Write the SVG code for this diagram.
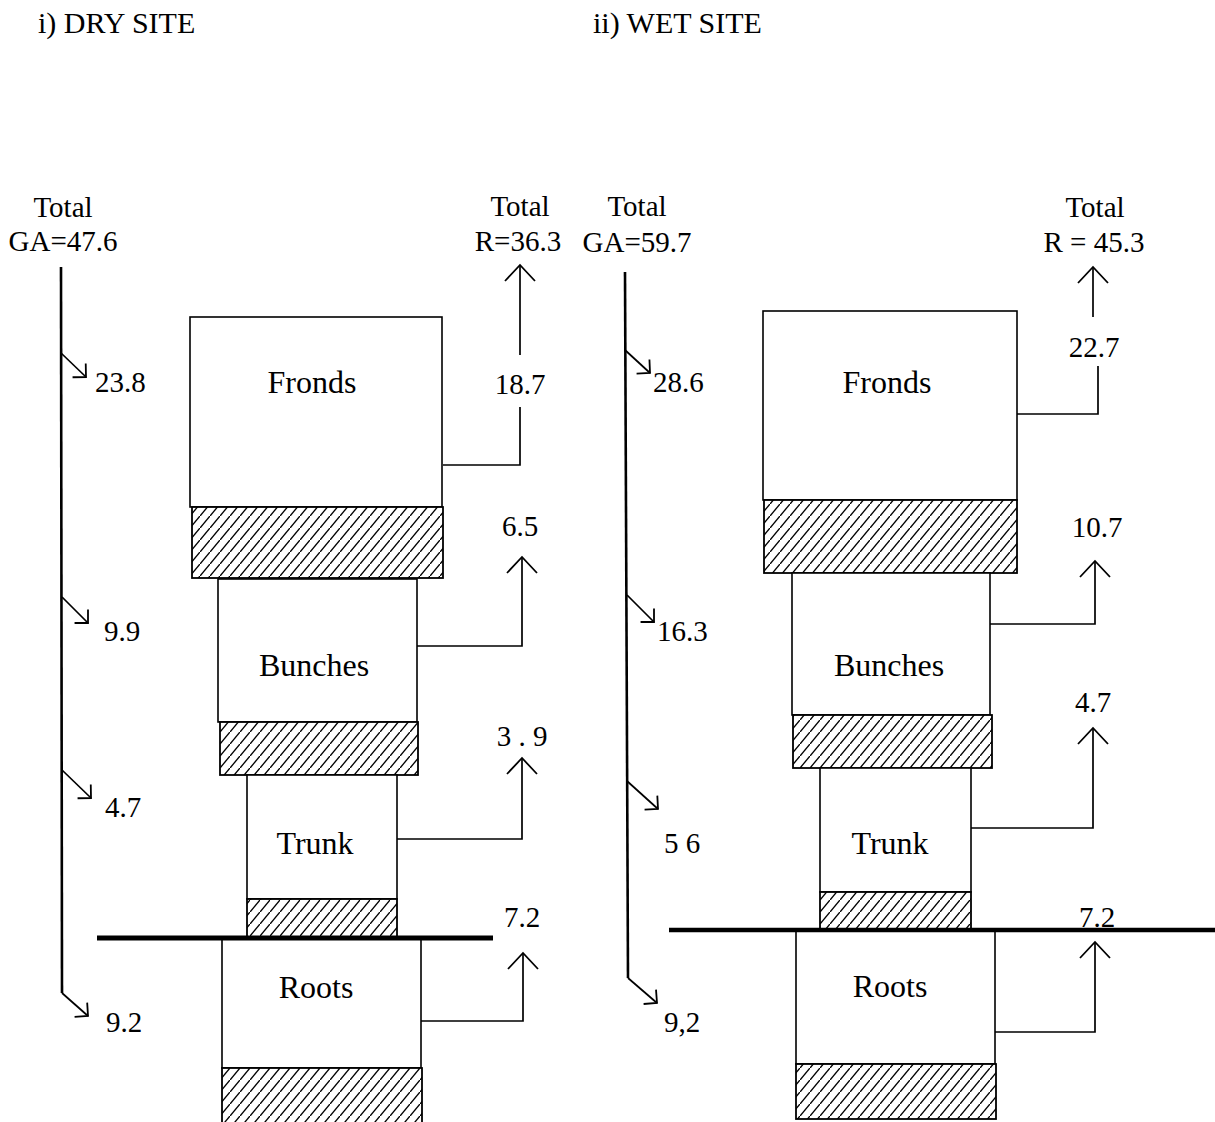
<svg xmlns="http://www.w3.org/2000/svg" width="1215" height="1122" viewBox="0 0 1215 1122">
  <style>
    text { font-family: "Liberation Serif", "Times New Roman", serif; fill: #000; }
    .t { font-size: 29px; }
    .title { font-size: 30px; }
    .lbl { font-size: 32px; text-anchor: middle; }
    .c { text-anchor: middle; }
    .box { fill: #fff; stroke: #000; stroke-width: 1.6; }
    .hat { fill: url(#hatch); stroke: #000; stroke-width: 1.8; }
    .ln { fill: none; stroke: #000; stroke-width: 1.7; }
    .ga { fill: none; stroke: #000; stroke-width: 2.6; }
    .ground { stroke: #000; stroke-linecap: butt; }
  </style>
  <defs>
    <pattern id="hatch" patternUnits="userSpaceOnUse" width="10" height="12">
      <rect width="10" height="12" fill="#fff"/>
      <path d="M-1,13.2 L11,-1.2" stroke="#000" stroke-width="1.4"/>
    </pattern>
    <marker id="up" markerUnits="userSpaceOnUse" orient="auto" viewBox="-20 -20 40 40" markerWidth="40" markerHeight="40" refX="0" refY="0">
      <path d="M-16,-15 L0,0 L-16,15" fill="none" stroke="#000" stroke-width="1.8"/>
    </marker>
    <marker id="dn" markerUnits="userSpaceOnUse" orient="auto" viewBox="-20 -20 40 40" markerWidth="40" markerHeight="40" refX="0" refY="0">
      <path d="M-9.5,-9.5 L0,0 L-9.5,9.5" fill="none" stroke="#000" stroke-width="1.8"/>
    </marker>
  </defs>
  <rect width="1215" height="1122" fill="#fff"/>

  <text class="title" x="38" y="33">i) DRY SITE</text>
  <text class="title" x="593" y="33">ii) WET SITE</text>

  <!-- DRY SITE nodes -->
  <g id="dry-fronds">
    <rect class="box" x="190" y="317" width="252" height="190"/>
    <rect class="hat" x="192" y="507" width="251" height="71"/>
    <text class="lbl" x="312" y="393">Fronds</text>
  </g>
  <g id="dry-bunches">
    <rect class="box" x="218" y="579" width="199" height="143"/>
    <rect class="hat" x="220" y="722" width="198" height="53"/>
    <text class="lbl" x="314" y="676">Bunches</text>
  </g>
  <g id="dry-trunk">
    <rect class="box" x="247" y="775" width="150" height="124"/>
    <rect class="hat" x="247" y="899" width="150" height="38"/>
    <text class="lbl" x="315" y="854">Trunk</text>
  </g>
  <g id="dry-roots">
    <rect class="box" x="222" y="938" width="199" height="130"/>
    <rect class="hat" x="222" y="1068" width="200" height="56"/>
    <text class="lbl" x="316" y="998">Roots</text>
  </g>
  <g id="dry-ground">
    <line class="ground" x1="97" y1="938" x2="493" y2="938" stroke-width="5"/>
  </g>
  <g id="dry-ga">
    <text class="t c" x="63" y="217">Total</text>
    <text class="t c" x="63" y="251">GA=47.6</text>
    <text class="t" x="95" y="392">23.8</text>
    <text class="t" x="104" y="641">9.9</text>
    <text class="t" x="105" y="817">4.7</text>
    <text class="t" x="106" y="1032">9.2</text>
  </g>
  <g id="dry-r">
    <text class="t c" x="520" y="216">Total</text>
    <text class="t c" x="518" y="251">R=36.3</text>
    <text class="t c" x="520" y="394">18.7</text>
    <text class="t c" x="520" y="536">6.5</text>
    <text class="t c" x="522" y="746">3 . 9</text>
    <text class="t c" x="522" y="927">7.2</text>
  </g>

  <!-- WET SITE nodes -->
  <g id="wet-fronds">
    <rect class="box" x="763" y="311" width="254" height="189"/>
    <rect class="hat" x="764" y="500" width="253" height="73"/>
    <text class="lbl" x="887" y="393">Fronds</text>
  </g>
  <g id="wet-bunches">
    <rect class="box" x="792" y="573" width="198" height="142"/>
    <rect class="hat" x="793" y="715" width="199" height="53"/>
    <text class="lbl" x="889" y="676">Bunches</text>
  </g>
  <g id="wet-trunk">
    <rect class="box" x="820" y="768" width="151" height="124"/>
    <rect class="hat" x="820" y="892" width="151" height="38"/>
    <text class="lbl" x="890" y="854">Trunk</text>
  </g>
  <g id="wet-roots">
    <rect class="box" x="796" y="930" width="199" height="134"/>
    <rect class="hat" x="796" y="1064" width="200" height="55"/>
    <text class="lbl" x="890" y="997">Roots</text>
  </g>
  <g id="wet-ground">
    <line class="ground" x1="669" y1="930" x2="1215" y2="930" stroke-width="4.5"/>
  </g>
  <g id="wet-ga">
    <text class="t c" x="637" y="216">Total</text>
    <text class="t c" x="637" y="252">GA=59.7</text>
    <text class="t" x="653" y="392">28.6</text>
    <text class="t" x="657" y="641">16.3</text>
    <text class="t" x="664" y="853">5 6</text>
    <text class="t" x="664" y="1032">9,2</text>
  </g>
  <g id="wet-r">
    <text class="t c" x="1095" y="217">Total</text>
    <text class="t c" x="1094" y="252">R = 45.3</text>
    <text class="t c" x="1094" y="357">22.7</text>
    <text class="t c" x="1097" y="537">10.7</text>
    <text class="t c" x="1093" y="712">4.7</text>
    <text class="t c" x="1097" y="927">7.2</text>
  </g>

  <!-- connectors -->
  <g id="connectors">
    <!-- dry GA -->
    <path class="ga" d="M61,267 L62,993"/>
    <path class="ln" d="M61,353 L86,377" marker-end="url(#dn)"/>
    <path class="ln" d="M62,597 L88,623" marker-end="url(#dn)"/>
    <path class="ln" d="M62,770 L91,798" marker-end="url(#dn)"/>
    <path class="ln" d="M62,993 L88,1016" marker-end="url(#dn)"/>
    <!-- dry R -->
    <path class="ln" d="M443,465 L520,465 L520,407"/>
    <path class="ln" d="M520,355 L520,265" marker-end="url(#up)"/>
    <path class="ln" d="M417,646 L522,646 L522,557" marker-end="url(#up)"/>
    <path class="ln" d="M397,839 L522,839 L522,758" marker-end="url(#up)"/>
    <path class="ln" d="M421,1021 L523,1021 L523,953" marker-end="url(#up)"/>
    <!-- wet GA -->
    <path class="ga" d="M625,272 L628,978"/>
    <path class="ln" d="M625,350 L650,373" marker-end="url(#dn)"/>
    <path class="ln" d="M627,595 L654,622" marker-end="url(#dn)"/>
    <path class="ln" d="M627,781 L658,809" marker-end="url(#dn)"/>
    <path class="ln" d="M628,978 L657,1003" marker-end="url(#dn)"/>
    <!-- wet R -->
    <path class="ln" d="M1017,414 L1098,414 L1098,366" stroke-width="2.2"/>
    <path class="ln" d="M1093,317 L1093,267" stroke-width="2.2" marker-end="url(#up)"/>
    <path class="ln" d="M990,624 L1095,624 L1095,561" stroke-width="3" marker-end="url(#up)"/>
    <path class="ln" d="M971,828 L1093,828 L1093,728" marker-end="url(#up)"/>
    <path class="ln" d="M995,1032 L1095,1032 L1095,942" stroke-width="2.4" marker-end="url(#up)"/>
  </g>
</svg>
